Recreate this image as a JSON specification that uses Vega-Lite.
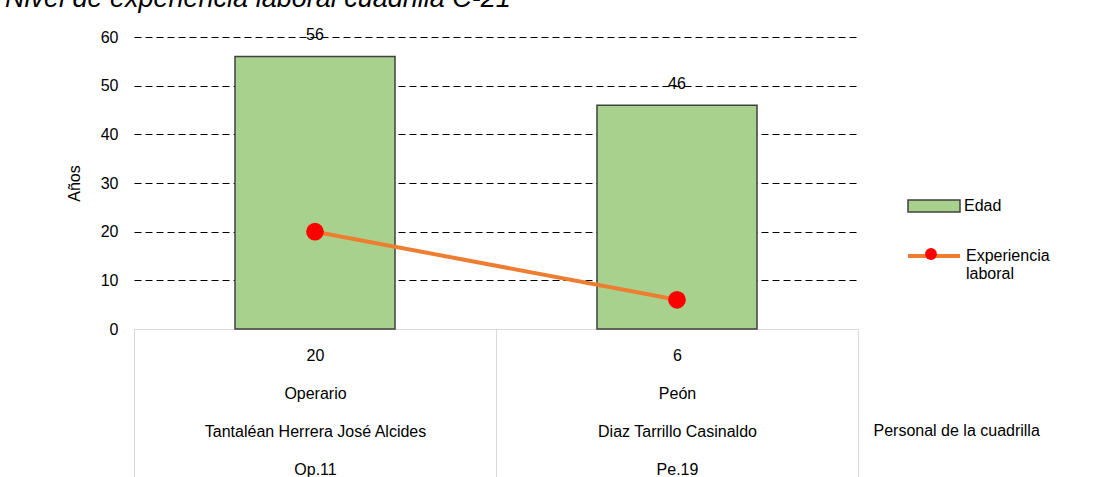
{
  "$schema": "https://vega.github.io/schema/vega-lite/v6.json",
  "width": 724,
  "height": 292,
  "autosize": "none",
  "padding": {"left": 134, "top": 37, "right": 238, "bottom": 148},
  "background": "white",
  "title": {
    "text": "Nivel de experiencia laboral cuadrilla C-21",
    "anchor": "start",
    "frame": "group",
    "fontStyle": "italic",
    "fontWeight": "normal",
    "font": "Liberation Sans",
    "fontSize": 27,
    "color": "black",
    "baseline": "alphabetic",
    "offset": 0,
    "dx": -129,
    "dy": 7
  },
  "data": {
    "values": [
      {"cat": "20|Operario|Tantaléan Herrera José Alcides|Op.11", "edad": 56, "exp": 20},
      {"cat": "6|Peón|Diaz Tarrillo Casinaldo|Pe.19", "edad": 46, "exp": 6}
    ]
  },
  "encoding": {
    "x": {
      "field": "cat",
      "type": "nominal",
      "sort": null,
      "scale": {"paddingInner": 0, "paddingOuter": 0},
      "axis": {
        "title": "Personal de la cuadrilla",
        "labelExpr": "split(datum.label, '|')",
        "labelAngle": 0,
        "labelBaseline": "top",
        "labelLineHeight": 38,
        "labelPadding": -130,
        "labelFontSize": 16,
        "labelLimit": 0,
        "tickBand": "extent",
        "tickSize": 148,
        "tickColor": "#D9D9D9",
        "tickWidth": 1,
        "domainColor": "#D9D9D9",
        "titleX": 739,
        "titleY": 101,
        "titleAlign": "left",
        "titleBaseline": "middle",
        "titleFontWeight": "normal",
        "titleFontSize": 16
      }
    }
  },
  "layer": [
    {
      "mark": {"type": "bar", "width": {"band": 0.442}, "stroke": "#404040", "strokeWidth": 1.5},
      "encoding": {
        "y": {
          "field": "edad",
          "type": "quantitative",
          "scale": {"domain": [0, 60]},
          "axis": {
            "title": "Años",
            "values": [0, 10, 20, 30, 40, 50, 60],
            "grid": true,
            "gridDash": [7, 4],
            "gridColor": {"condition": {"test": "datum.value === 0", "value": "transparent"}, "value": "#000000"},
            "gridWidth": 1,
            "ticks": false,
            "domain": false,
            "labelPadding": 16,
            "labelFontSize": 16,
            "titleFontSize": 16,
            "titleFontWeight": "normal",
            "titlePadding": 18
          }
        },
        "fill": {
          "datum": "Edad",
          "scale": {"range": ["#A9D18E"]},
          "legend": {
            "orient": "none",
            "legendX": 773,
            "legendY": 142,
            "title": null,
            "padding": 0,
            "symbolType": "M-1,-0.23H1V0.23H-1Z",
            "symbolSize": 2704,
            "symbolStrokeColor": "#404040",
            "symbolStrokeWidth": 1.5,
            "labelFontSize": 16,
            "labelOffset": 3
          }
        }
      }
    },
    {
      "mark": {"type": "text", "dy": -16, "baseline": "alphabetic", "fontSize": 16, "font": "Liberation Sans", "color": "black"},
      "encoding": {
        "y": {"field": "edad", "type": "quantitative"},
        "text": {"field": "edad", "type": "quantitative"}
      }
    },
    {
      "mark": {"type": "line", "strokeWidth": 4},
      "encoding": {
        "y": {"field": "exp", "type": "quantitative"},
        "stroke": {
          "datum": "Experiencia laboral",
          "scale": {"range": ["#ED7D31"]},
          "legend": {
            "orient": "none",
            "legendX": 772,
            "legendY": 191,
            "title": null,
            "padding": 0,
            "symbolType": "stroke",
            "symbolSize": 2704,
            "symbolStrokeWidth": 4,
            "symbolFillColor": "transparent",
            "labelFontSize": 16,
            "labelOffset": 4,
            "labelBaseline": "middle",
            "labelExpr": "split(datum.label, ' ')"
          }
        }
      }
    },
    {
      "mark": {"type": "point", "filled": true, "color": "#FF0000", "size": 314, "opacity": 1},
      "encoding": {
        "y": {"field": "exp", "type": "quantitative"},
        "shape": {
          "datum": "punto",
          "scale": {"range": ["circle"]},
          "legend": {
            "orient": "none",
            "legendX": 791,
            "legendY": 211,
            "title": null,
            "padding": 0,
            "symbolSize": 140,
            "symbolFillColor": "#FF0000",
            "symbolStrokeColor": "#FF0000",
            "symbolStrokeWidth": 0,
            "symbolOpacity": 1,
            "labelExpr": "''"
          }
        }
      }
    }
  ],
  "config": {
    "font": "Liberation Sans",
    "view": {"stroke": null},
    "axis": {"labelFont": "Liberation Sans", "titleFont": "Liberation Sans", "labelColor": "black", "titleColor": "black"},
    "legend": {"labelFont": "Liberation Sans", "labelColor": "black"}
  }
}
